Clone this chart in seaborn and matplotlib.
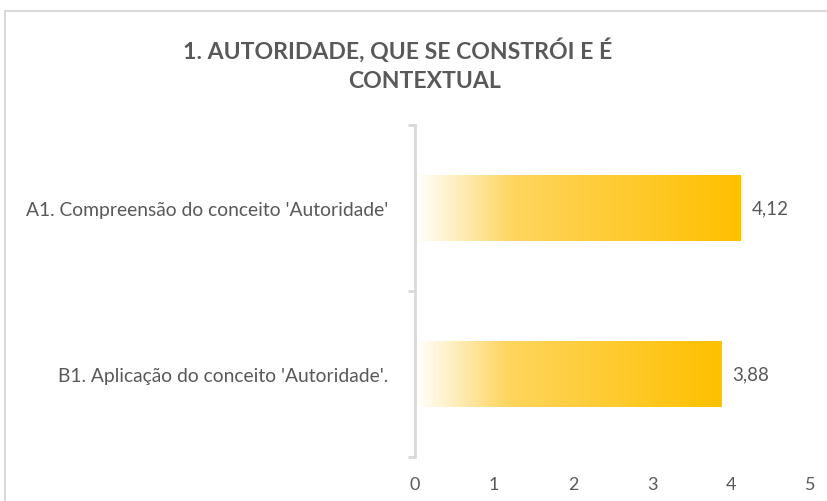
import numpy as np
import pandas as pd
import seaborn as sns
import matplotlib.pyplot as plt
from matplotlib.colors import LinearSegmentedColormap
from matplotlib.patches import Rectangle

categories = ["A1. Compreensão do conceito 'Autoridade'",
              "B1. Aplicação do conceito 'Autoridade'."]
values = [4.12, 3.88]
x_ticks = [0, 1, 2, 3, 4, 5]
title_lines = ["1. AUTORIDADE, QUE SE CONSTRÓI E É", "CONTEXTUAL"]

sns.set_theme(style='white')
plt.rcParams['font.family'] = ['Lato', 'DejaVu Sans']

df = pd.DataFrame({'item': categories, 'score': values})

fig = plt.figure(figsize=(8.28, 5.02), dpi=100)
ax = fig.add_axes([415 / 828, 44 / 502, 395 / 828, 332 / 502])

sns.barplot(data=df, x='score', y='item', orient='h', width=0.4, ax=ax)

# gradient fill (white -> gold) clipped to each bar
cmap = LinearSegmentedColormap.from_list(
    'gold', [(0, '#FFFFFF'), (0.1, '#FFF2CC'), (0.3, '#FED55E'), (1, '#FFC000')])
grad = np.linspace(0, 1, 256).reshape(1, -1)
for p in ax.patches:
    x0, y0 = p.get_x(), p.get_y()
    w, h = p.get_width(), p.get_height()
    p.set_facecolor('none')
    p.set_edgecolor('none')
    im = ax.imshow(grad, cmap=cmap, aspect='auto', extent=(x0, x0 + w, y0 + h, y0),
                   zorder=2, interpolation='bicubic')
    im.set_clip_path(p)

ax.set_xlim(0, 5)
ax.set_ylim(1.5, -0.5)
ax.set_xticks(x_ticks)
ax.set_xlabel('')
ax.set_ylabel('')

labels = [f'{v:.2f}'.replace('.', ',') for v in values]
ax.bar_label(ax.containers[0], labels=labels, padding=8, fontsize=13.5, color='#595959')

for s in ['top', 'right', 'bottom']:
    ax.spines[s].set_visible(False)
ax.spines['left'].set_color('#D9D9D9')
ax.spines['left'].set_linewidth(2)

ax.tick_params(axis='x', length=0, labelsize=13, labelcolor='#595959', pad=14)
ax.tick_params(axis='y', which='major', length=0, labelsize=13.9, labelcolor='#595959', pad=19)
ax.set_yticks([-0.5, 0.5, 1.5], minor=True)
ax.tick_params(axis='y', which='minor', left=True, length=5, width=2, color='#D9D9D9')

fig.text(398 / 828, 1 - 50 / 502, title_lines[0], ha='center', va='center', fontsize=16.6,
         fontweight='bold', color='#595959')
fig.text(425 / 828, 1 - 82 / 502, title_lines[1], ha='center', va='center', fontsize=16.6,
         fontweight='bold', color='#595959')

# chart border
fig.patches.append(Rectangle((5 / 828, -0.1), 1.2, (502 - 12) / 502 + 0.1,
                             transform=fig.transFigure, fill=False,
                             edgecolor='#D9D9D9', linewidth=1.5))

fig.savefig('out.png', dpi=100, facecolor='white')
